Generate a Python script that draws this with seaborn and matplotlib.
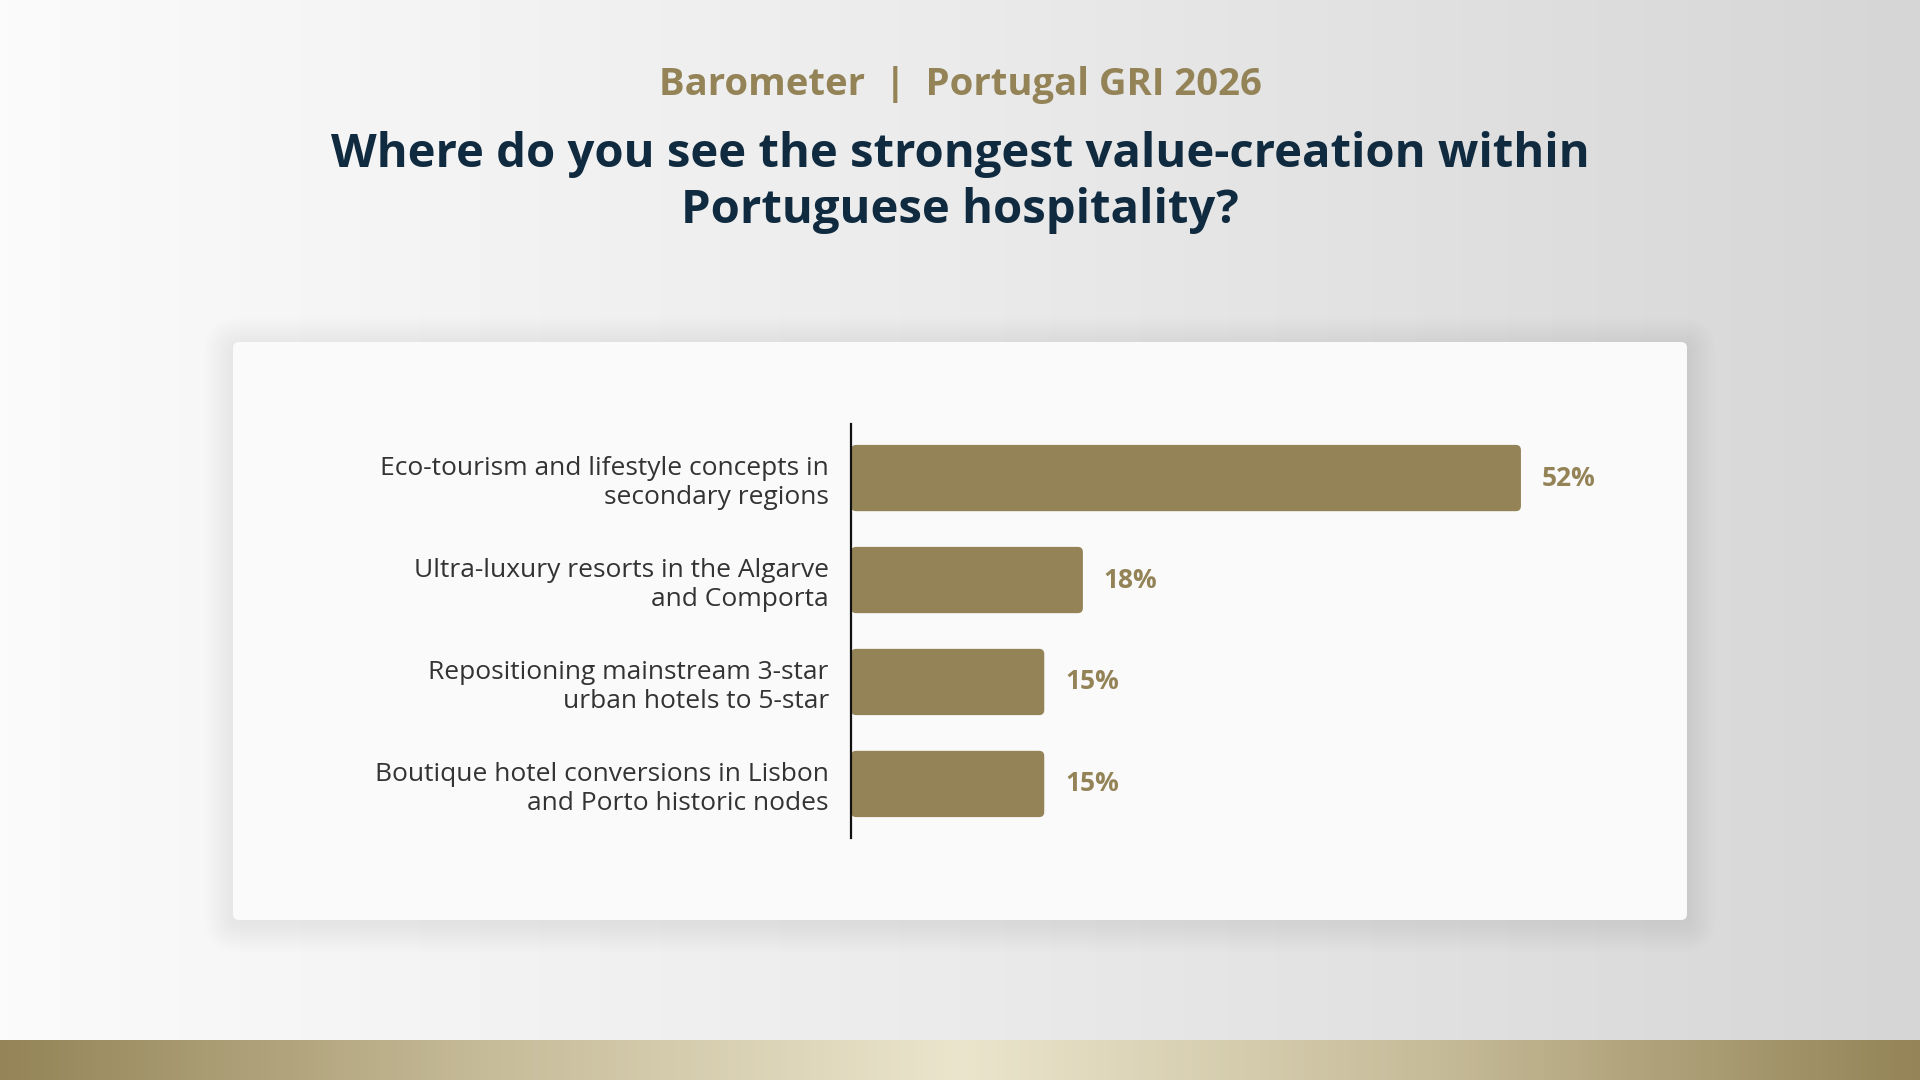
import numpy as np
import pandas as pd
import seaborn as sns
import matplotlib.pyplot as plt
from matplotlib.patches import FancyBboxPatch
from matplotlib.colors import LinearSegmentedColormap

# survey answers
categories = [
    "Eco-tourism and lifestyle concepts in\nsecondary regions",
    "Ultra-luxury resorts in the Algarve\nand Comporta",
    "Repositioning mainstream 3-star\nurban hotels to 5-star",
    "Boutique hotel conversions in Lisbon\nand Porto historic nodes",
]
shares = [52, 18, 15, 15]
value_labels = ["52%", "18%", "15%", "15%"]

subtitle = "Barometer  |  Portugal GRI 2026"
title_1 = "Where do you see the strongest value-creation within"
title_2 = "Portuguese hospitality?"

GOLD = "#938357"
NAVY = "#102b40"
TXT = "#333333"

sns.set_theme(style="white")
plt.rcParams['font.family'] = ['Open Sans', 'DejaVu Sans']

df = pd.DataFrame({"category": categories, "share": shares})

fig = plt.figure(figsize=(19.2, 10.8), dpi=100)

# background, drawn in pixel coords
bg = fig.add_axes([0, 0, 1, 1], zorder=0)
bg.set_xlim(0, 1920)
bg.set_ylim(1080, 0)
bg.axis('off')
grey = LinearSegmentedColormap.from_list("g", ["#fbfbfb", "#ebebeb", "#d6d6d6"])
bg.imshow(np.linspace(0, 1, 256).reshape(1, -1), cmap=grey, aspect='auto',
          extent=[0, 1920, 1080, 0], zorder=0)
band = LinearSegmentedColormap.from_list(
    "b", ["#948457", "#c6bb98", "#ebe5cd", "#c6bb98", "#948457"])
bg.imshow(np.linspace(0, 1, 256).reshape(1, -1), cmap=band, aspect='auto',
          extent=[0, 1920, 1080, 1040], zorder=1)

# card with a soft shadow
cx, cy, cw, ch = 233, 342, 1454, 578
for i in range(16, 0, -1):
    bg.add_patch(FancyBboxPatch((cx, cy + 4), cw, ch, boxstyle=f"round,pad={i * 1.8},rounding_size={6 + i * 1.8}",
                                fc="#000000", ec="none", alpha=0.005, zorder=2))
bg.add_patch(FancyBboxPatch((cx, cy), cw, ch, boxstyle="round,pad=0,rounding_size=6",
                            fc="#fafafa", ec="none", zorder=3))

fig.text(0.5, 1 - 85 / 1080, subtitle, ha='center', va='center', fontsize=27.5,
         fontweight='bold', color=GOLD)
fig.text(0.5, 1 - 154 / 1080, title_1, ha='center', va='center', fontsize=34,
         fontweight='bold', color=NAVY)
fig.text(0.5, 1 - 210 / 1080, title_2, ha='center', va='center', fontsize=34,
         fontweight='bold', color=NAVY)

# the chart itself
ax = fig.add_axes([851 / 1920, 1 - 838 / 1080, 773 / 1920, 414 / 1080], zorder=2)
ax.set_facecolor('none')
sns.barplot(data=df, x="share", y="category", color=GOLD, width=0.65,
            saturation=1, ax=ax)
ax.set_xlim(0, 60)
ax.set_ylim(3.53, -0.53)
ax.bar_label(ax.containers[0], labels=value_labels, padding=15, fontsize=19,
             fontweight='bold', color=GOLD)

# rounded ends
for p in list(ax.patches):
    x, y, w, h = p.get_x(), p.get_y(), p.get_width(), p.get_height()
    p.set_visible(False)
    ax.add_patch(FancyBboxPatch((x, y), w, h, boxstyle="round,pad=0,rounding_size=0.4",
                                mutation_aspect=12.88 / 102, fc=GOLD, ec="none"))

for s in ['top', 'right', 'bottom']:
    ax.spines[s].set_visible(False)
ax.spines['left'].set_color('#111111')
ax.spines['left'].set_linewidth(1.6)
ax.spines['left'].set_zorder(5)
ax.set_xticks([])
ax.set_xlabel('')
ax.set_ylabel('')
ax.tick_params(axis='y', length=0, pad=16, labelsize=19, labelcolor=TXT)
for t in ax.get_yticklabels():
    t.set_linespacing(1.2)

plt.savefig('out.png', dpi=100)
